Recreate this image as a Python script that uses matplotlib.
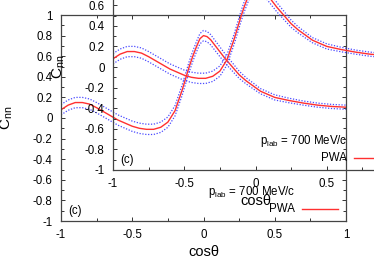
import matplotlib
matplotlib.use("Agg")
import matplotlib.pyplot as plt
from matplotlib.ticker import MultipleLocator
import numpy as np

plt.rcParams['font.family'] = ['Liberation Sans', 'DejaVu Sans']
plt.rcParams['mathtext.fontset'] = 'custom'
plt.rcParams['mathtext.rm'] = 'Liberation Sans'
plt.rcParams['mathtext.it'] = 'Liberation Sans:italic'

cos_theta = [-1.0, -0.95, -0.9, -0.85, -0.8, -0.75, -0.7, -0.65, -0.6, -0.55,
             -0.5, -0.45, -0.4, -0.35, -0.3, -0.25, -0.2, -0.15, -0.1, -0.075,
             -0.05, -0.025, 0.0, 0.025, 0.05, 0.1, 0.15, 0.2, 0.25, 0.3,
             0.35, 0.4, 0.5, 0.6, 0.7, 0.8, 0.9, 1.0]
cnn_pwa = [0.08, 0.125, 0.15, 0.15, 0.135, 0.10, 0.06, 0.02, -0.02, -0.05,
           -0.08, -0.10, -0.11, -0.11, -0.09, -0.04, 0.07, 0.27, 0.50, 0.60,
           0.69, 0.77, 0.80, 0.79, 0.76, 0.67, 0.58, 0.50, 0.42, 0.36,
           0.31, 0.26, 0.20, 0.17, 0.145, 0.125, 0.112, 0.105]
cnn_err = [0.05, 0.05, 0.05, 0.05, 0.05, 0.05, 0.05, 0.05, 0.05, 0.05,
           0.05, 0.05, 0.05, 0.05, 0.05, 0.05, 0.05, 0.05, 0.05, 0.05,
           0.05, 0.05, 0.05, 0.05, 0.05, 0.048, 0.045, 0.04, 0.035, 0.03,
           0.028, 0.025, 0.025, 0.022, 0.02, 0.02, 0.02, 0.02]

x_ticks = [-1, -0.5, 0, 0.5, 1]
x_ticklabels = ['-1', '-0.5', '0', '0.5', '1']
y_ticks = [-1, -0.8, -0.6, -0.4, -0.2, 0, 0.2, 0.4, 0.6, 0.8, 1]
y_ticklabels = ['-1', '-0.8', '-0.6', '-0.4', '-0.2', '0', '0.2', '0.4', '0.6', '0.8', '1']

W, H = 374, 262
fig = plt.figure(figsize=(W / 100, H / 100), dpi=100)
fig.patch.set_facecolor('white')

x = np.array(cos_theta)
y = np.array(cnn_pwa)
e = np.array(cnn_err)


def draw(ax):
    ax.set_facecolor('none')
    ax.plot(x, y + e, color='#4a4aff', lw=0.9, ls=(0, (1, 1.3)))
    ax.plot(x, y - e, color='#4a4aff', lw=0.9, ls=(0, (1, 1.3)))
    ax.plot(x, y, color='#ff3030', lw=1.0)
    ax.set_xlim(-1, 1)
    ax.set_ylim(-1, 1)
    ax.set_xticks(x_ticks)
    ax.set_xticklabels(x_ticklabels)
    ax.set_yticks(y_ticks)
    ax.set_yticklabels(y_ticklabels)
    ax.xaxis.set_minor_locator(MultipleLocator(0.25))
    ax.yaxis.set_minor_locator(MultipleLocator(0.1))
    ax.tick_params(which='both', direction='in', top=True, right=True,
                   labelsize=8.3, color='#333333')
    ax.tick_params(which='major', length=3, width=0.7, pad=6)
    ax.tick_params(which='minor', length=2, width=0.7)
    for s in ax.spines.values():
        s.set_color('#444444')
        s.set_linewidth(0.9)
    ax.set_xlabel('cosθ', fontsize=10.5)
    ax.xaxis.set_label_coords(0.5, -0.115)
    ax.set_ylabel(r'C$_{\rm nn}$', fontsize=11)
    ax.yaxis.set_label_coords(-0.162, 0.5)
    ax.text(0.025, 0.049, '(c)', transform=ax.transAxes, fontsize=8.3,
            ha='left', va='center')
    ax.text(0.821, 0.141, r'p$_{\rm lab}$ = 700 MeV/c', transform=ax.transAxes,
            fontsize=8.3, ha='right', va='center')
    ax.text(0.821, 0.058, 'PWA', transform=ax.transAxes, fontsize=8.3,
            ha='right', va='center')
    ax.plot([0.846, 0.972], [0.058, 0.058], transform=ax.transAxes,
            color='#ff3030', lw=1.0, clip_on=False)


ax_outer = fig.add_axes([61 / W, (H - 221) / H, 285 / W, 206 / H])
draw(ax_outer)
ax_inner = fig.add_axes([113 / W, (H - 170) / H, 285 / W, 206 / H])
draw(ax_inner)

fig.savefig('out.png', dpi=100)
